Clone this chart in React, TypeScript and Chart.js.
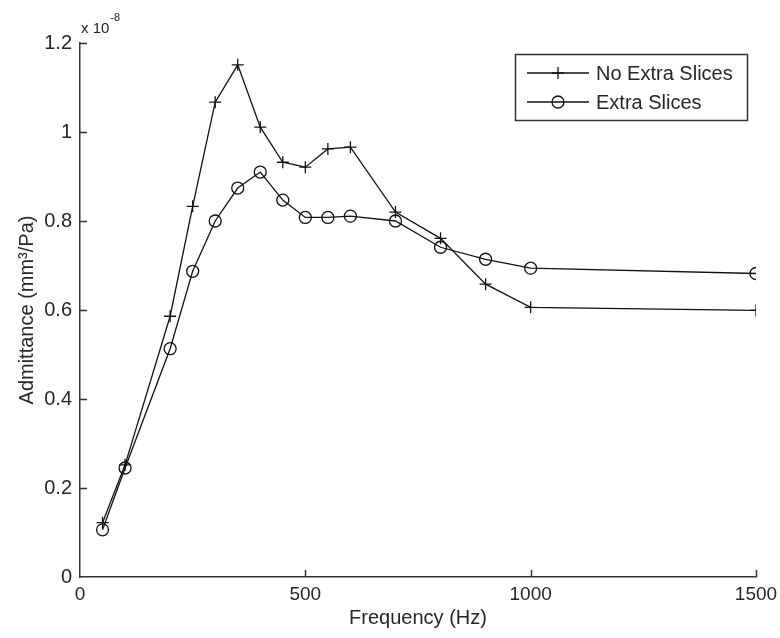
import React, { useEffect, useRef } from 'react';
import { Chart, registerables } from 'chart.js';

Chart.register(...registerables);

// ---- data (values in units of 1e-8 mm^3/Pa) ----
const frequencies = [50, 100, 200, 250, 300, 350, 400, 450, 500, 550, 600, 700, 800, 900, 1000, 1500];
const noExtraSlices = [0.122, 0.252, 0.586, 0.833, 1.067, 1.151, 1.011, 0.932, 0.921, 0.962, 0.966, 0.820, 0.761, 0.658, 0.606, 0.599];
const extraSlices = [0.106, 0.245, 0.513, 0.687, 0.800, 0.874, 0.910, 0.847, 0.808, 0.808, 0.811, 0.800, 0.741, 0.714, 0.694, 0.682];
const seriesLabels = ['No Extra Slices', 'Extra Slices'];
const xTicks = [0, 500, 1000, 1500];
const yTicks = [0, 0.2, 0.4, 0.6, 0.8, 1, 1.2];
const xTitle = 'Frequency (Hz)';
const yTitle = 'Admittance (mm³/Pa)';
const exponentBase = 'x 10';
const exponentPower = '-8';

const FONT = '"Liberation Sans", Arial, sans-serif';
const TEXT = '#262626';
const AXIS = '#333333';
const LINE = '#111111';

function drawMarker(ctx: CanvasRenderingContext2D, kind: string, x: number, y: number) {
  ctx.beginPath();
  if (kind === 'cross') {
    ctx.moveTo(x - 6, y);
    ctx.lineTo(x + 6, y);
    ctx.moveTo(x, y - 6);
    ctx.lineTo(x, y + 6);
  } else {
    ctx.arc(x, y, 6, 0, Math.PI * 2);
  }
  ctx.stroke();
}

const decorPlugin = {
  id: 'matlabDecor',
  afterDraw(chart: any) {
    const { ctx, chartArea, scales } = chart;
    ctx.save();
    // inward tick marks
    ctx.strokeStyle = AXIS;
    ctx.lineWidth = 1.5;
    ctx.beginPath();
    for (const v of xTicks) {
      if (v === 0) continue;
      const px = Math.round(scales.x.getPixelForValue(v)) + 0.5;
      ctx.moveTo(px, chartArea.bottom);
      ctx.lineTo(px, chartArea.bottom - 7);
    }
    for (const v of yTicks) {
      if (v === 0) continue;
      const py = Math.round(scales.y.getPixelForValue(v)) + 0.5;
      ctx.moveTo(chartArea.left, py);
      ctx.lineTo(chartArea.left + 7, py);
    }
    ctx.stroke();

    // exponent label
    ctx.fillStyle = TEXT;
    ctx.textBaseline = 'alphabetic';
    ctx.textAlign = 'left';
    ctx.font = `15px ${FONT}`;
    ctx.fillText(exponentBase, chartArea.left + 1, 33);
    const w = ctx.measureText(exponentBase).width;
    ctx.font = `11px ${FONT}`;
    ctx.fillText(exponentPower, chartArea.left + 2 + w, 21);

    // legend box
    const bx = 515.5, by = 54.5, bw = 232, bh = 66;
    ctx.fillStyle = '#ffffff';
    ctx.fillRect(bx, by, bw, bh);
    ctx.strokeStyle = AXIS;
    ctx.lineWidth = 1.5;
    ctx.strokeRect(bx, by, bw, bh);
    const rows = [73, 102];
    const kinds = ['cross', 'circle'];
    ctx.font = `20px ${FONT}`;
    ctx.textBaseline = 'middle';
    seriesLabels.forEach((label, i) => {
      const y = rows[i];
      ctx.strokeStyle = LINE;
      ctx.lineWidth = 1.3;
      ctx.beginPath();
      ctx.moveTo(527, y);
      ctx.lineTo(589, y);
      ctx.stroke();
      drawMarker(ctx, kinds[i], 558, y);
      ctx.fillStyle = TEXT;
      ctx.fillText(label, 596, y + 1);
    });
    ctx.restore();
  },
};

export default function App() {
  const ref = useRef<HTMLCanvasElement | null>(null);

  useEffect(() => {
    document.body.style.margin = '0';
    const canvas = ref.current;
    if (!canvas) return;
    const chart = new Chart(canvas, {
      type: 'scatter',
      data: {
        datasets: [
          {
            label: seriesLabels[0],
            data: frequencies.map((f, i) => ({ x: f, y: noExtraSlices[i] })),
            showLine: true,
            borderColor: LINE,
            borderWidth: 1.3,
            pointStyle: 'cross',
            pointRadius: 6,
            pointBorderColor: LINE,
            pointBorderWidth: 1.3,
            pointBackgroundColor: 'transparent',
          },
          {
            label: seriesLabels[1],
            data: frequencies.map((f, i) => ({ x: f, y: extraSlices[i] })),
            showLine: true,
            borderColor: LINE,
            borderWidth: 1.3,
            pointStyle: 'circle',
            pointRadius: 6,
            pointBorderColor: LINE,
            pointBorderWidth: 1.3,
            pointBackgroundColor: 'transparent',
          },
        ],
      },
      options: {
        responsive: false,
        animation: false,
        devicePixelRatio: 1,
        layout: { padding: { top: 43, right: 24, left: 0, bottom: 0 } },
        plugins: {
          legend: { display: false },
          tooltip: { enabled: false },
        },
        scales: {
          x: {
            type: 'linear',
            min: 0,
            max: 1500,
            afterBuildTicks: (s: any) => {
              s.ticks = xTicks.map((v) => ({ value: v }));
            },
            afterFit: (s: any) => {
              s.height = 61;
              s.paddingLeft = 0;
              s.paddingRight = 0;
            },
            grid: { display: false, drawTicks: false },
            border: { display: true, color: AXIS, width: 1.5 },
            ticks: {
              color: TEXT,
              font: { family: FONT, size: 19 },
              padding: 6,
              maxRotation: 0,
              autoSkip: false,
              callback: (v: any) => String(v),
            },
            title: {
              display: true,
              text: xTitle,
              color: TEXT,
              font: { family: FONT, size: 20 },
              padding: { top: 0, bottom: 8 },
            },
          },
          y: {
            type: 'linear',
            min: 0,
            max: 1.2,
            afterBuildTicks: (s: any) => {
              s.ticks = yTicks.map((v) => ({ value: v }));
            },
            afterFit: (s: any) => {
              s.width = 80;
              s.paddingTop = 0;
              s.paddingBottom = 0;
            },
            grid: { display: false, drawTicks: false },
            border: { display: true, color: AXIS, width: 1.5 },
            ticks: {
              color: TEXT,
              font: { family: FONT, size: 20 },
              padding: 8,
              autoSkip: false,
              callback: (v: any) => String(Math.round(Number(v) * 10) / 10),
            },
            title: {
              display: true,
              text: yTitle,
              color: TEXT,
              font: { family: FONT, size: 20 },
              padding: { top: 15, bottom: 0 },
            },
          },
        },
      },
      plugins: [decorPlugin],
    } as any);
    return () => chart.destroy();
  }, []);

  return (
    <div style={{ position: 'absolute', left: 0, top: 0, width: 780, height: 638, background: '#fff' }}>
      <canvas ref={ref} width={780} height={638} style={{ display: 'block', width: 780, height: 638 }} />
    </div>
  );
}
